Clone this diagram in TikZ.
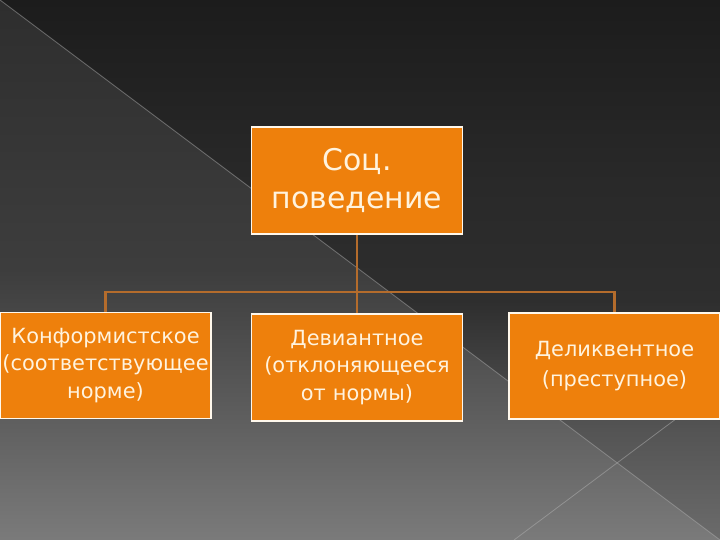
\documentclass[tikz,border=0pt]{standalone}
\usepackage{fontspec}
\setmainfont{DejaVu Sans}
\usetikzlibrary{positioning}

\definecolor{slideorange}{RGB}{238,128,12}
\definecolor{boxrim}{RGB}{255,248,236}
\definecolor{boxtext}{RGB}{255,243,222}
\definecolor{linkbrown}{RGB}{180,108,44}

% background ramps (the path's box sits between 25bp and 75bp)
\pgfdeclareverticalshading{leftramp}{100bp}{%
    color(0bp)=(black!48); color(25bp)=(black!52); color(35.2bp)=(black!62);
    color(50bp)=(black!76); color(75bp)=(black!82); color(100bp)=(black!82)}
\pgfdeclareverticalshading{darkramp}{100bp}{%
    color(0bp)=(black!58); color(25bp)=(black!58); color(35.2bp)=(black!67);
    color(47.2bp)=(black!82); color(58.3bp)=(black!84); color(75bp)=(black!89);
    color(100bp)=(black!89)}

\tikzset{
    box/.style={draw=boxrim, line width=1.6bp, fill=slideorange, text=boxtext,
        inner sep=0pt, minimum width=211bp, minimum height=106bp,
        text width=211bp, align=center, font=\fontsize{21}{27.5}\selectfont},
    link/.style={draw=linkbrown, line width=2.2bp},
    seam/.style={draw=gray!60, line width=0.8bp, opacity=0.5}
}

\begin{document}
\begin{tikzpicture}[x=1bp,y=1bp]
    % slide background
    \useasboundingbox (0,0) rectangle (720,540);
    \shade[shading=leftramp] (0,0) rectangle (720,540);
    \shade[shading=darkramp] (0,540) -- (720,540) -- (720,0) -- cycle;
    \draw[seam] (0,540) -- (720,0);
    \draw[seam] (514,0) -- (720,154);

    % boxes
    \node[box, minimum height=107bp, font=\fontsize{30}{38}\selectfont]
        (root) at (357,359.5) {Соц.\\поведение};
    \node[box] (conf) at (105.5,174.5)
        {Конформистское\\(соответствующее\\норме)};
    \node[box, minimum height=107bp] (dev) at (357,172.5)
        {Девиантное\\(отклоняющееся\\от нормы)};
    \node[box, font=\fontsize{21}{30}\selectfont] (delin) at (614.5,174)
        {Деликвентное\\(преступное)};

    % connectors
    \coordinate (bus) at (357,248);
    \draw[link] (conf.north) |- (bus) -| (delin.north);
    \draw[link] (root.south) -- (dev.north);
\end{tikzpicture}
\end{document}
